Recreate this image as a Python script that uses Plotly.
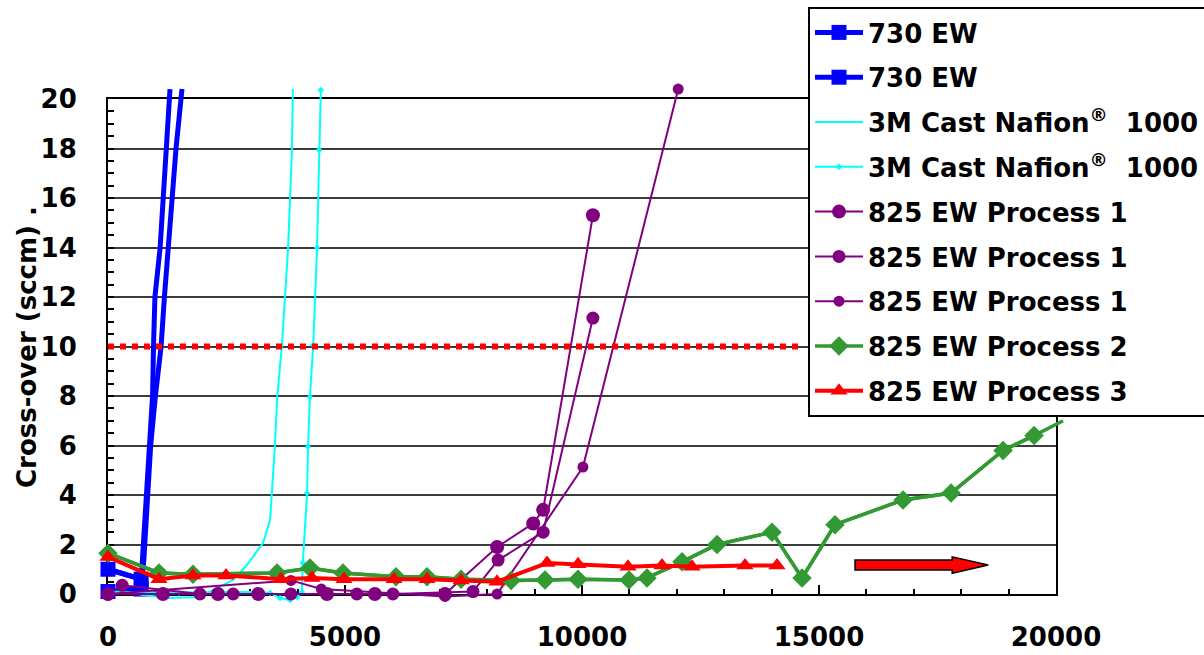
import plotly.graph_objects as go

# ---------------- data ----------------
X_TICK_VALS = [0, 5000, 10000, 15000, 20000]
X_TICK_TEXT = ["0", "5000", "10000", "15000", "20000"]
Y_TICK_VALS = [0, 2, 4, 6, 8, 10, 12, 14, 16, 18, 20]
Y_TICK_TEXT = ["0", "2", "4", "6", "8", "10", "12", "14", "16", "18", "20"]

BLUE1_X = [0, 700, 720, 890, 940, 960, 990, 1100, 1160, 1245, 1308]
BLUE1_Y = [1.0, 0.6, 1.2, 5.9, 8.0, 10.0, 12.0, 14.0, 16.0, 18.0, 20.4]
BLUE2_X = [0, 700, 760, 900, 1000, 1120, 1190, 1266, 1350, 1435, 1561]
BLUE2_Y = [0.1, 0.2, 1.5, 6.0, 8.0, 10.0, 12.0, 14.0, 16.0, 18.0, 20.4]

CYAN1_X = [0, 460, 740, 1310, 1940, 2640, 2930, 3270, 3420, 3520, 3570, 3670, 3800, 3880, 3900]
CYAN1_Y = [0.1, 0.08, -0.04, -0.16, -0.12, 0.57, 1.17, 2.06, 3.0, 5.94, 7.96, 10.06, 14.0, 17.9, 20.4]
CYAN2_X = [0, 1500, 3200, 3420, 3630, 3840, 3990, 4090, 4110, 4200, 4220, 4260, 4330, 4410, 4450, 4490]
CYAN2_Y = [0.05, 0.05, 0.08, 0.04, -0.16, -0.24, -0.12, 0.08, 1.25, 4.08, 5.94, 7.96, 10.06, 14.0, 17.94, 20.36]

P1_X = [0, 1160, 2320, 3170, 4620, 5630, 7110, 8210, 8970, 9180, 10230]
P1_Y = [0, 0, 0, 0, 0, 0, 0, 1.9, 2.85, 3.4, 15.3]
P2_X = [0, 300, 1940, 2640, 3860, 5250, 6010, 7700, 8230, 9180, 10230]
P2_Y = [0, 0.35, 0, 0, 0, 0, 0, 0.1, 1.37, 2.5, 11.15]
P3_X = [0, 3860, 4500, 7110, 8210, 10020, 12030]
P3_Y = [0, 0.55, 0.2, -0.1, 0, 5.13, 20.4]

GREEN_X = [0, 1076, 1793, 3565, 4262, 4958, 6076, 6730, 7448, 8503, 9220, 9916,
           10992, 11372, 12110, 12849, 14009, 14642, 15338, 16773, 17786, 18883, 19537, 20149]
GREEN_Y = [1.65, 0.85, 0.8, 0.85, 1.05, 0.85, 0.7, 0.7, 0.6, 0.55, 0.57, 0.6,
           0.57, 0.65, 1.3, 2.0, 2.5, 0.65, 2.8, 3.8, 4.08, 5.8, 6.4, 7.0]

RED_X = [0, 1076, 1793, 2490, 3650, 4304, 4979, 6034, 6730, 7448, 8207, 9262, 9916,
         10971, 11688, 12321, 13439, 14114]
RED_Y = [1.5, 0.6, 0.75, 0.75, 0.6, 0.65, 0.6, 0.6, 0.6, 0.55, 0.5, 1.25, 1.2,
         1.1, 1.15, 1.1, 1.15, 1.15]

THRESH_X = [0, 14600]
THRESH_Y = [10, 10]

ARROW_X0, ARROW_XNECK, ARROW_XTIP = 15760, 17810, 18570
ARROW_YC, ARROW_BODY_H, ARROW_HEAD_H = 1.17, 0.2, 0.33

NAMES = ["730 EW", "730 EW",
         "3M Cast Nafion<sup>®</sup>\u00a0 1000", "3M Cast Nafion<sup>®</sup>\u00a0 1000",
         "825 EW Process 1", "825 EW Process 1", "825 EW Process 1",
         "825 EW Process 2", "825 EW Process 3"]

# ---------------- layout geometry ----------------
W, H = 1204, 655
PX_L, PX_R, PX_T, PX_B = 108, 1056, 99, 594
EX_L, EX_R, EX_T, EX_B = 94, 1084, 80, 610
X_MAX, Y_MAX = 20000, 20
sx = (PX_R - PX_L) / X_MAX
sy = (PX_B - PX_T) / Y_MAX
x2_range = [(EX_L - PX_L) / sx, (EX_R - PX_L) / sx]
y2_range = [-(EX_B - PX_B) / sy, Y_MAX + (PX_T - EX_T) / sy]

FONT = "DejaVu Sans"
BLUE, CYAN, PURPLE, GREEN, RED = "#0000FF", "#00FFFF", "#800080", "#339933", "#FF0000"

fig = go.Figure()


def add_series(name, group, xs, ys, color, width, symbol, size, mark_idx=None):
    if mark_idx is None:
        fig.add_trace(go.Scatter(
            x=xs, y=ys, name=name, legendgroup=group, mode="lines+markers",
            line=dict(color=color, width=width),
            marker=dict(color=color, symbol=symbol, size=size, line=dict(width=0)),
            xaxis="x2", yaxis="y2"))
    else:
        fig.add_trace(go.Scatter(
            x=xs, y=ys, legendgroup=group, showlegend=False, mode="lines",
            line=dict(color=color, width=width), hoverinfo="skip",
            xaxis="x2", yaxis="y2"))
        fig.add_trace(go.Scatter(
            x=[xs[i] for i in mark_idx], y=[ys[i] for i in mark_idx],
            name=name, legendgroup=group, mode="lines+markers",
            line=dict(color=color, width=width),
            marker=dict(color=color, symbol=symbol, size=size, line=dict(width=0)),
            xaxis="x2", yaxis="y2"))


add_series(NAMES[0], "g0", BLUE1_X, BLUE1_Y, BLUE, 5, "square", 15,
           [i for i, v in enumerate(BLUE1_Y) if v < 1.1])
add_series(NAMES[1], "g1", BLUE2_X, BLUE2_Y, BLUE, 5, "square", 15,
           [i for i, v in enumerate(BLUE2_Y) if v < 1.1])
add_series(NAMES[2], "g2", CYAN1_X, CYAN1_Y, CYAN, 2, "cross-thin", 6)
add_series(NAMES[3], "g3", CYAN2_X, CYAN2_Y, CYAN, 2, "diamond", 5)
add_series(NAMES[4], "g4", P1_X, P1_Y, PURPLE, 2, "circle", 14)
add_series(NAMES[5], "g5", P2_X, P2_Y, PURPLE, 2, "circle", 13)
add_series(NAMES[6], "g6", P3_X, P3_Y, PURPLE, 2, "circle", 11)
add_series(NAMES[7], "g7", GREEN_X, GREEN_Y, GREEN, 3.5, "diamond", 15,
           list(range(len(GREEN_X) - 1)))
add_series(NAMES[8], "g8", RED_X, RED_Y, RED, 4, "triangle-up", 15)

fig.add_trace(go.Scatter(x=THRESH_X, y=THRESH_Y, mode="lines", showlegend=False,
                         line=dict(color=RED, width=6, dash="dot"),
                         xaxis="x2", yaxis="y2", hoverinfo="skip"))
# invisible trace to anchor the frame axes
fig.add_trace(go.Scatter(x=[0], y=[0], mode="markers", marker=dict(opacity=0),
                         showlegend=False, hoverinfo="skip"))

arrow_path = (
    f"M {ARROW_X0},{ARROW_YC - ARROW_BODY_H} L {ARROW_XNECK},{ARROW_YC - ARROW_BODY_H} "
    f"L {ARROW_XNECK},{ARROW_YC - ARROW_HEAD_H} L {ARROW_XTIP},{ARROW_YC} "
    f"L {ARROW_XNECK},{ARROW_YC + ARROW_HEAD_H} L {ARROW_XNECK},{ARROW_YC + ARROW_BODY_H} "
    f"L {ARROW_X0},{ARROW_YC + ARROW_BODY_H} Z")
fig.add_shape(type="path", path=arrow_path, xref="x", yref="y",
              fillcolor=RED, line=dict(color="black", width=1.5), layer="above")

tickfont = dict(family=FONT, size=26, color="black", weight="bold")

fig.update_layout(
    width=W, height=H, autosize=False,
    margin=dict(l=0, r=0, t=0, b=0, autoexpand=False),
    paper_bgcolor="white", plot_bgcolor="rgba(0,0,0,0)",
    xaxis=dict(domain=[PX_L / W, PX_R / W], range=[0, X_MAX], showgrid=False,
               zeroline=False, showline=True, linecolor="black", linewidth=2,
               mirror=True, ticks="inside", ticklen=9, tickwidth=2, tickcolor="black",
               tickmode="array", tickvals=X_TICK_VALS, ticktext=X_TICK_TEXT,
               minor=dict(dtick=1000, tick0=0, ticks="inside", ticklen=5,
                          tickwidth=2, tickcolor="black"),
               tickfont=tickfont, ticklabelstandoff=19, fixedrange=True),
    yaxis=dict(domain=[1 - PX_B / H, 1 - PX_T / H], range=[0, Y_MAX], showgrid=True,
               gridcolor="#3c3c3c", gridwidth=2, zeroline=False, showline=True,
               linecolor="black", linewidth=2, mirror=True, ticks="inside",
               ticklen=6, tickwidth=2, tickcolor="black",
               tickmode="array", tickvals=Y_TICK_VALS, ticktext=Y_TICK_TEXT,
               minor=dict(dtick=0.5, tick0=0, ticks="inside", ticklen=6,
                          tickwidth=2, tickcolor="black", showgrid=False),
               tickfont=tickfont, ticklabelstandoff=24, fixedrange=True),
    xaxis2=dict(domain=[EX_L / W, EX_R / W], range=x2_range, anchor="y2",
                visible=False, fixedrange=True),
    yaxis2=dict(domain=[1 - EX_B / H, 1 - EX_T / H], range=y2_range, anchor="x2",
                visible=False, fixedrange=True),
    legend=dict(x=808 / W, y=1 - 7 / H, xanchor="left", yanchor="top",
                bgcolor="white", bordercolor="black", borderwidth=2,
                font=dict(family=FONT, size=26, color="black", weight="bold"),
                tracegroupgap=8, itemwidth=48, traceorder="grouped"),
    showlegend=True,
    annotations=[dict(text="Cross-over (sccm) .", xref="paper", yref="paper",
                      x=27 / W, y=1 - 347 / H, textangle=-90, showarrow=False,
                      font=dict(family=FONT, size=26, color="black", weight="bold"),
                      xanchor="center", yanchor="middle")],
)

fig.write_html("out.html")
